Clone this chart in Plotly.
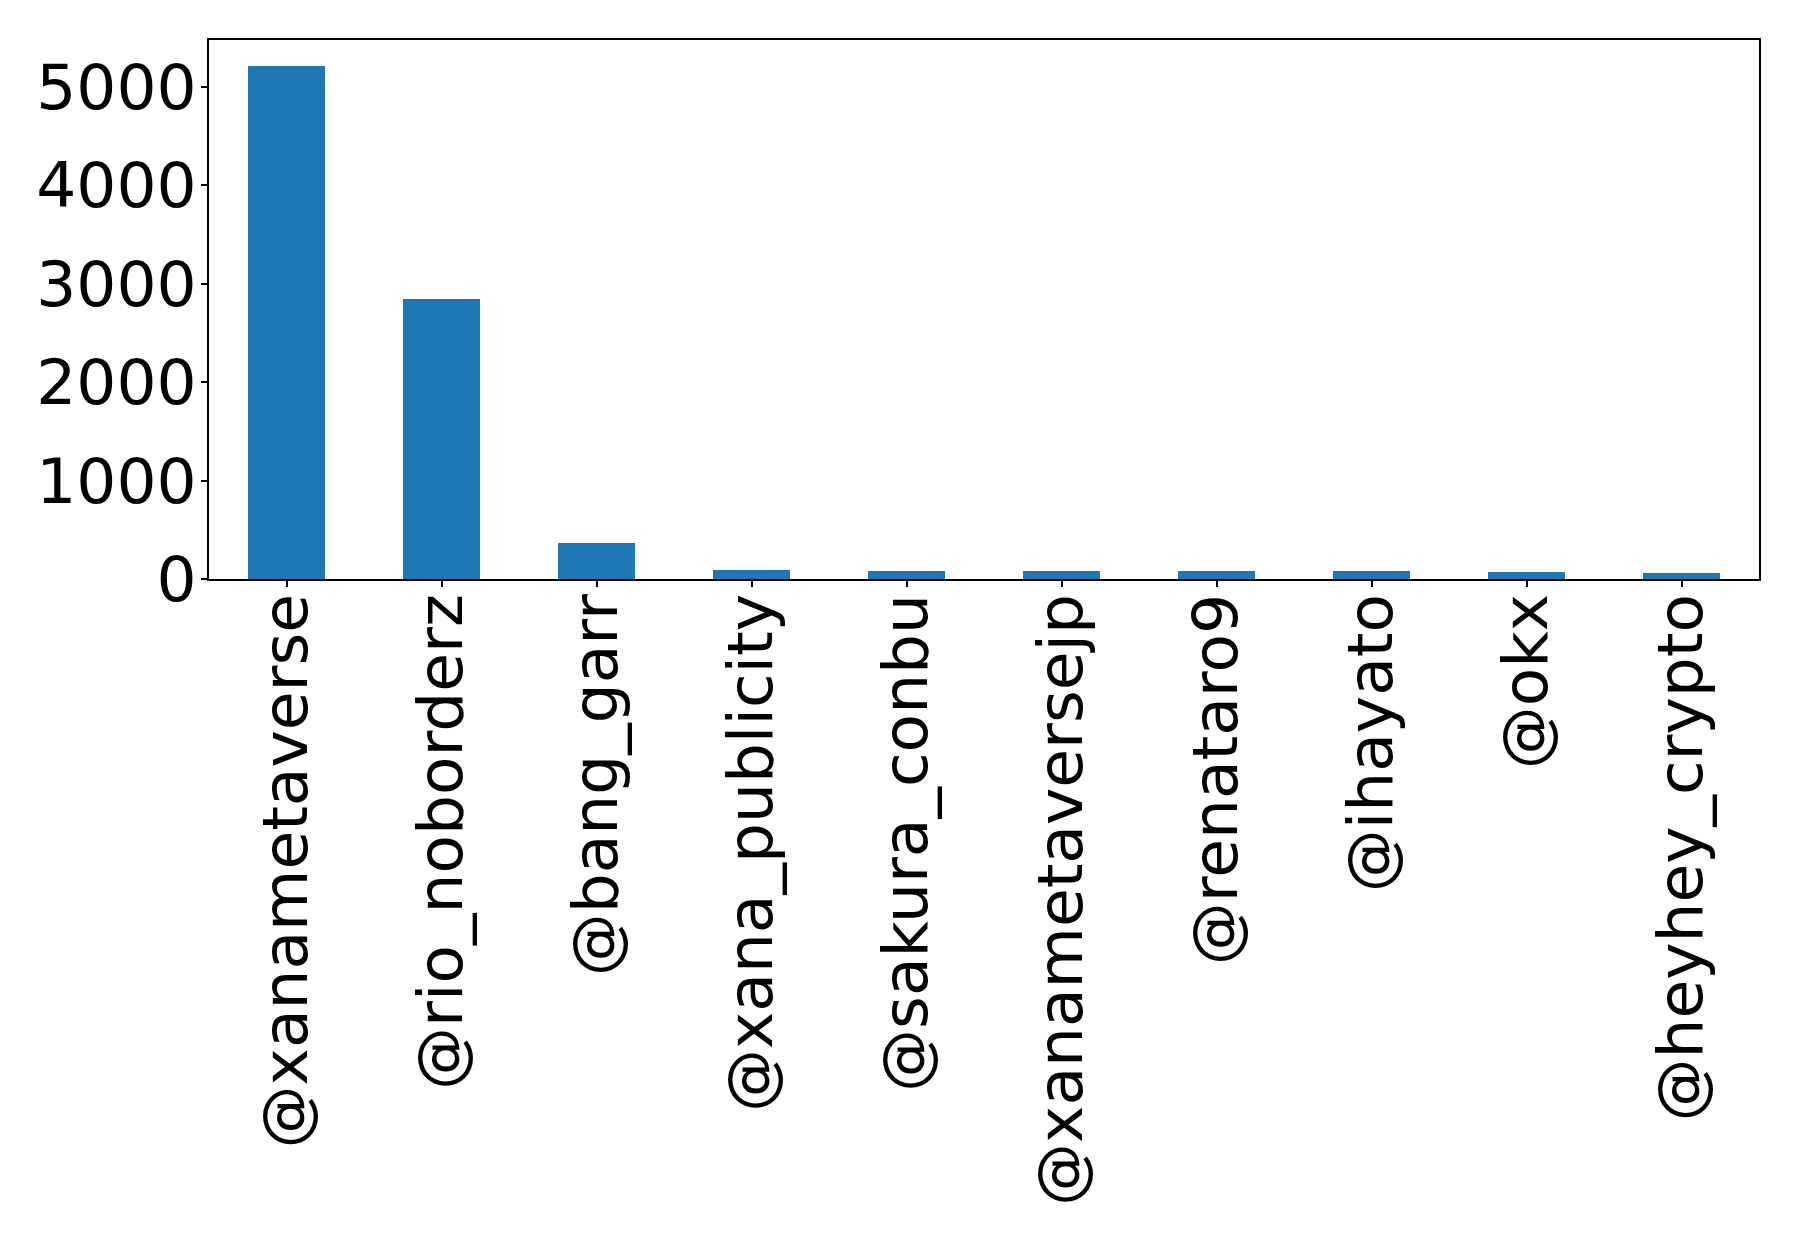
import plotly.graph_objects as go

accounts = ["@xanametaverse", "@rio_noborderz", "@bang_garr", "@xana_publicity",
            "@sakura_conbu", "@xanametaversejp", "@renataro9", "@ihayato",
            "@okx", "@heyhey_crypto"]
counts = [5213, 2840, 365, 90, 81, 81, 80, 79, 70, 62]
y_ticks = [0, 1000, 2000, 3000, 4000, 5000]

# page body has an 8px default margin, compensate
W, H = 1790, 1227
fig = go.Figure()
fig.add_trace(go.Bar(x=list(range(len(accounts))), y=counts, width=0.5,
                     marker=dict(color="#1f77b4", line=dict(width=0))))

font = dict(family="DejaVu Sans", size=63, color="black")
fig.update_layout(
    width=W, height=H,
    margin=dict(l=201, r=39, t=32, b=656, pad=0),
    paper_bgcolor="white", plot_bgcolor="white",
    showlegend=False, font=font, bargap=0,
)
fig.update_xaxes(
    range=[-0.5, len(accounts) - 0.5],
    tickmode="array", tickvals=list(range(len(accounts))), ticktext=accounts,
    tickangle=-90, ticks="outside", ticklen=6, tickwidth=1.5, tickcolor="black",
    showline=True, linecolor="black", linewidth=1.6, mirror=True,
    showgrid=False, zeroline=False, tickfont=font, ticklabelstandoff=-18,
)
fig.update_yaxes(
    range=[0, max(counts) * 1.05],
    tickmode="array", tickvals=y_ticks, ticktext=[str(v) for v in y_ticks],
    ticks="outside", ticklen=6, tickwidth=1.5, tickcolor="black",
    showline=True, linecolor="black", linewidth=1.6, mirror=True,
    showgrid=False, zeroline=False, tickfont=font, ticklabelstandoff=-8,
)
fig.write_html("out.html")
